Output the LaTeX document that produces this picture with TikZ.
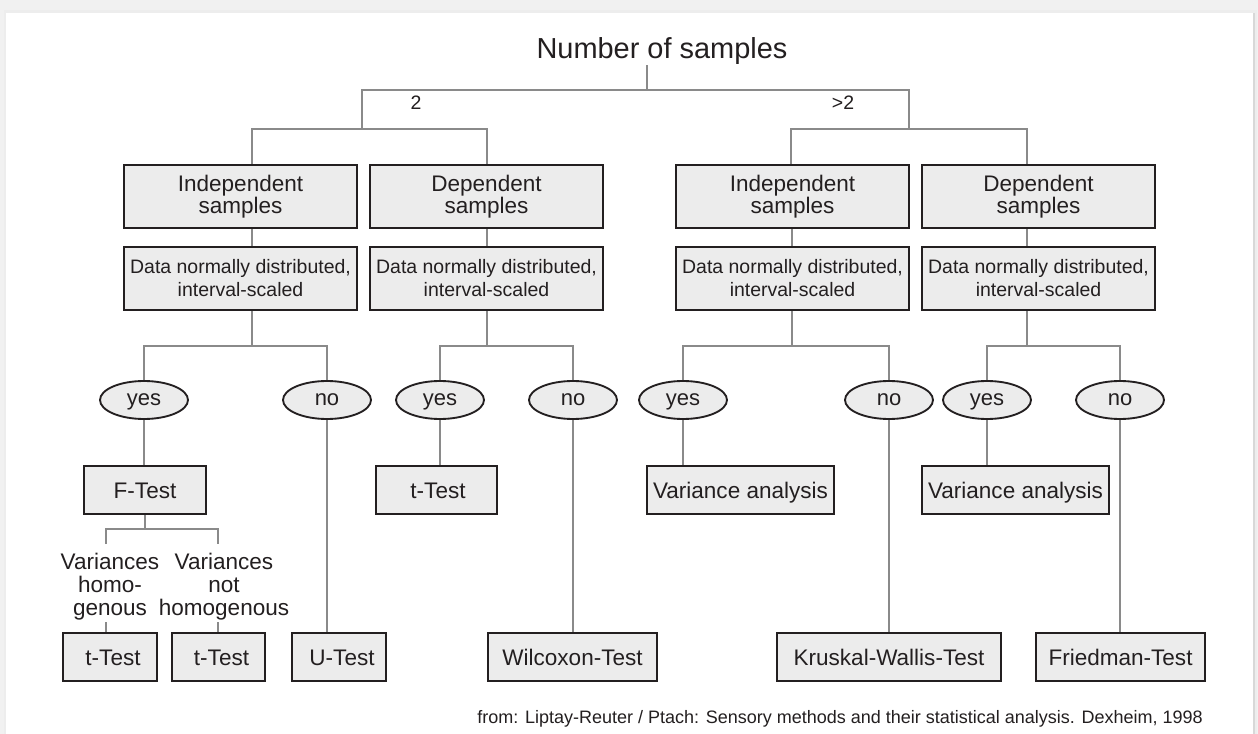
\documentclass[tikz,border=0pt]{standalone}
\usepackage{fontspec}
\setmainfont{Liberation Sans}
\usetikzlibrary{shapes.geometric}
\newdimen\px \px=0.75pt
\definecolor{linegray}{HTML}{8A8A8A}
\definecolor{boxfill}{HTML}{ECECEC}
\definecolor{ink}{HTML}{231F20}
\definecolor{outerbg}{HTML}{F1F1F1}
\definecolor{shadowc}{HTML}{D8D8D8}
\pgfdeclarelayer{back}
\pgfdeclarelayer{lines}
\pgfsetlayers{back,lines,main}
\begin{document}
\begin{tikzpicture}[x=0.75pt,y=-0.75pt,
  conn/.style={draw=linegray, line width=2.2pt},
  box/.style={draw=ink, fill=boxfill, line width=1.55pt, inner sep=0pt, text=ink,
    font=\fontsize{16.9}{16.5}\selectfont, align=center},
  onebox/.style={box, minimum height=48\px, text height=12.1pt, text depth=0pt},
  twobox/.style={box, minimum width=233\px, minimum height=63\px},
  databox/.style={box, minimum width=233\px, minimum height=63\px,
    font=\fontsize{14.6}{17.25}\selectfont},
  choice/.style={ellipse, draw=ink, fill=boxfill, line width=1.4pt, inner sep=0pt,
    minimum width=88\px, minimum height=38\px, text=ink,
    font=\fontsize{16.5}{18}\selectfont, text height=8.6pt, text depth=0pt},
  lab/.style={text=ink, inner sep=0pt, align=center, font=\fontsize{16.9}{17.3}\selectfont}
]
\useasboundingbox (0,0) rectangle (1258,734);
\begin{pgfonlayer}{back}
  \fill[outerbg] (0,0) rectangle (1258,734);
  \fill[shadowc!45] (4,10) rectangle (1257,734);
  \fill[shadowc] (1252,13) rectangle (1255,734);
  \fill[white] (6,13) rectangle (1253,734);
\end{pgfonlayer}

% title and labels
\node[anchor=base, inner sep=0pt, text=ink, font=\fontsize{21.7}{26}\selectfont] (title) at (662,59) {Number of samples};
\node[anchor=base, inner sep=0pt, text=ink, font=\fontsize{14.6}{17}\selectfont] (two) at (416,110) {2};
\node[anchor=base, inner sep=0pt, text=ink, font=\fontsize{14.6}{17}\selectfont] (gttwo) at (843,110) {>2};

% sample type boxes
\node[twobox] (B1) at (240.5,196.5) {Independent\\samples};
\node[twobox] (B2) at (486.5,196.5) {Dependent\\samples};
\node[twobox] (B3) at (792.5,196.5) {Independent\\samples};
\node[twobox] (B4) at (1038.5,196.5) {Dependent\\samples};

% data boxes
\node[databox] (D1) at (240.5,278.5) {Data normally distributed,\\interval-scaled};
\node[databox] (D2) at (486.5,278.5) {Data normally distributed,\\interval-scaled};
\node[databox] (D3) at (792.5,278.5) {Data normally distributed,\\interval-scaled};
\node[databox] (D4) at (1038.5,278.5) {Data normally distributed,\\interval-scaled};

% yes / no
\node[choice] (Y1) at (144,400) {yes};
\node[choice] (N1) at (327,400) {no};
\node[choice] (Y2) at (440,400) {yes};
\node[choice] (N2) at (573,400) {no};
\node[choice] (Y3) at (683,400) {yes};
\node[choice] (N3) at (889,400) {no};
\node[choice] (Y4) at (987,400) {yes};
\node[choice] (N4) at (1120,400) {no};

% middle tests
\node[onebox, minimum width=122\px] (F) at (145,490) {F-Test};
\node[onebox, minimum width=121\px] (Tm) at (436.5,490) {\hspace*{3\px}t-Test};
\node[onebox, minimum width=187\px] (VA1) at (740.5,490) {Variance analysis};
\node[onebox, minimum width=187\px] (VA2) at (1015.5,490) {Variance analysis};

% variance labels
\node[lab, anchor=north] (VH) at (110,553) {Variances\\homo-\\genous};
\node[lab, anchor=north] (VN) at (224,553) {Variances\\not\\homogenous};

% bottom tests
\node[onebox, minimum width=94\px] (T1) at (110,657) {\hspace*{6\px}t-Test};
\node[onebox, minimum width=93\px] (T2) at (218.5,657) {\hspace*{6\px}t-Test};
\node[onebox, minimum width=94\px] (U) at (339,657) {\hspace*{6\px}U-Test};
\node[onebox, minimum width=169\px] (W) at (572.5,657) {Wilcoxon-Test};
\node[onebox, minimum width=224\px] (K) at (889,657) {Kruskal-Wallis-Test};
\node[onebox, minimum width=169\px] (Fr) at (1120.5,657) {Friedman-Test};

% citation
\node[anchor=base east, inner sep=0pt, text=ink, font=\fontsize{13.5}{16}\selectfont] (cite) at (1203,723)
  {from: Liptay-Reuter / Ptach: Sensory methods and their statistical analysis. Dexheim, 1998};

% junction coordinates
\coordinate (tb) at (647,90);
\coordinate (tl) at (362,90);
\coordinate (tr) at (909,90);
\coordinate (hl) at (362,129);
\coordinate (hr) at (909,129);
\coordinate (l1) at (252,129);
\coordinate (l2) at (487,129);
\coordinate (r1) at (791,129);
\coordinate (r2) at (1027,129);
\coordinate (d1) at (252,346);
\coordinate (d2) at (487,346);
\coordinate (d3) at (792,346);
\coordinate (d4) at (1027,346);
\coordinate (f) at (145,529);
\coordinate (fa) at (106,544);
\coordinate (fb) at (218,544);
\coordinate (ga) at (106,622);
\coordinate (gb) at (218,622);

\begin{pgfonlayer}{lines}
  \draw[conn] (title.south -| tb) -- (tb);
  \draw[conn] (hl) -- (tl) -- (tr) -- (hr);
  \draw[conn] (B1.north -| l1) -- (l1) -- (l2) -- (B2.north -| l2);
  \draw[conn] (B3.north -| r1) -- (r1) -- (r2) -- (B4.north -| r2);
  \draw[conn] (B1.south -| l1) -- (D1.north -| l1);
  \draw[conn] (B2.south -| l2) -- (D2.north -| l2);
  \draw[conn] (B3.south -| d3) -- (D3.north -| d3);
  \draw[conn] (B4.south -| r2) -- (D4.north -| r2);
  \draw[conn] (D1.south -| d1) -- (d1);
  \draw[conn] (D2.south -| d2) -- (d2);
  \draw[conn] (D3.south -| d3) -- (d3);
  \draw[conn] (D4.south -| d4) -- (d4);
  \draw[conn] (Y1.north) |- (d1) -| (N1.north);
  \draw[conn] (Y2.north) |- (d2) -| (N2.north);
  \draw[conn] (Y3.north) |- (d3) -| (N3.north);
  \draw[conn] (Y4.north) |- (d4) -| (N4.north);
  \draw[conn] (Y1.south) -- (F.north -| Y1.south);
  \draw[conn] (F.south -| f) -- (f);
  \draw[conn] (fa) |- (f) -| (fb);
  \draw[conn] (ga) -- (T1.north -| ga);
  \draw[conn] (gb) -- (T2.north -| gb);
  \draw[conn] (N1.south) -- (U.north -| N1.south);
  \draw[conn] (Y2.south) -- (Tm.north -| Y2.south);
  \draw[conn] (N2.south) -- (W.north -| N2.south);
  \draw[conn] (Y3.south) -- (VA1.north -| Y3.south);
  \draw[conn] (N3.south) -- (K.north -| N3.south);
  \draw[conn] (Y4.south) -- (VA2.north -| Y4.south);
  \draw[conn] (N4.south) -- (Fr.north -| N4.south);
\end{pgfonlayer}
\end{tikzpicture}
\end{document}
